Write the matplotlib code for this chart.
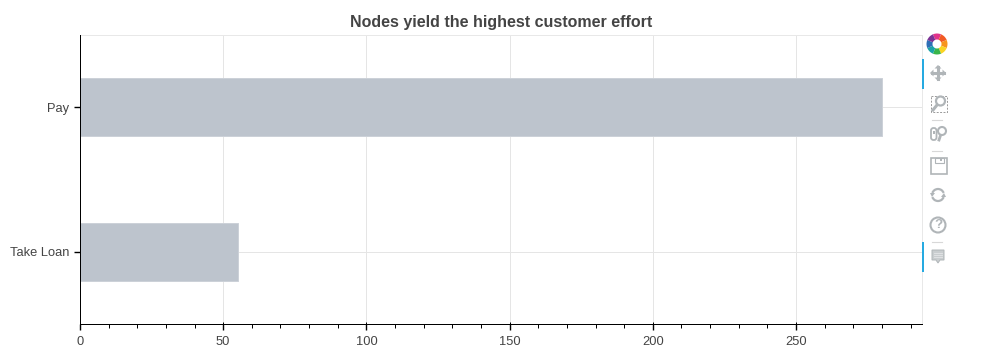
import matplotlib
matplotlib.use("Agg")
import matplotlib.pyplot as plt
from matplotlib.patches import Rectangle, Circle, Polygon, Wedge, FancyBboxPatch, Arc
from matplotlib.ticker import MultipleLocator

plt.rcParams['font.family'] = ['Liberation Sans', 'DejaVu Sans']

categories = ["Take Loan", "Pay"]
values = [55, 280]
x_ticks = [0, 50, 100, 150, 200, 250]
title = "Nodes yield the highest customer effort"

W, H = 984, 362
fig = plt.figure(figsize=(W / 100, H / 100), dpi=100)
px = 72 / 100  # one pixel in points

# axes box in pixels
left, right, top, bottom = 80.0, 922.0, 35.0, 324.0
ax = fig.add_axes([left / W, 1 - bottom / H, (right - left) / W, (bottom - top) / H])

ax.barh(range(len(categories)), values, height=0.4, color="#bdc4cd", edgecolor="#ccd1d8", linewidth=px, zorder=3)
ax.set_xlim(0, 294)
ax.set_ylim(-0.5, 1.5)
ax.set_yticks(range(len(categories)))
ax.set_yticklabels(categories)
ax.set_xticks(x_ticks)
ax.xaxis.set_minor_locator(MultipleLocator(10))

ax.grid(True, which="major", color="#e5e5e5", linewidth=px, zorder=0)
ax.set_axisbelow(True)
for s in ["top", "right"]:
    ax.spines[s].set_color("#e8e8e8")
    ax.spines[s].set_linewidth(px)
for s in ["left", "bottom"]:
    ax.spines[s].set_color("black")
    ax.spines[s].set_linewidth(px)
    ax.spines[s].set_zorder(5)

ax.tick_params(axis="both", which="major", direction="out", length=6 * px, width=1.0, color="black",
               labelsize=9.3, labelcolor="#444444")
ax.tick_params(axis="y", which="major", pad=3.2)
ax.tick_params(axis="x", which="major", pad=4)
ax.tick_params(axis="x", which="minor", direction="out", length=3.5 * px, width=px, color="black")

# short inward part of the major ticks
ax.plot(x_ticks, [-0.5] * len(x_ticks), ls="", marker=2, ms=2 * px, mew=px, color="black", clip_on=False, zorder=6)
ax.plot([0, 0], range(len(categories)), ls="", marker=0, ms=2 * px, mew=px, color="black", clip_on=False, zorder=6)

fig.text((351 + 652) / 2 / W, 1 - 22 / H, title, ha="center", va="center", fontsize=11.5,
         fontweight="bold", color="#444444")

# toolbar drawn in pixel coords
tb = fig.add_axes([0, 0, 1, 1], facecolor="none")
tb.set_xlim(0, W)
tb.set_ylim(H, 0)
tb.axis("off")
grey = "#b0b5b8"

# blue active markers
for y0 in [59, 242]:
    tb.add_patch(Rectangle((922, y0), 2, 30, color="#26aae1", lw=0))

# logo
logo_cols = ["#e2338a", "#f15a24", "#f7941d", "#f9d423", "#39b54a", "#1ba3a8", "#2e6fb7", "#7b3294"]
for i, c in enumerate(logo_cols):
    tb.add_patch(Wedge((937, 44), 10.5, 247.5 + i * 45, 292.5 + i * 45, width=6, color=c, lw=0))

# pan
tb.plot([932, 944], [73, 73], color=grey, lw=2.2)
tb.plot([938, 938], [67, 79], color=grey, lw=2.2)
for p in [[(930, 73), (933.5, 69.5), (933.5, 76.5)], [(946, 73), (942.5, 69.5), (942.5, 76.5)],
          [(938, 65), (934.5, 68.5), (941.5, 68.5)], [(938, 81), (934.5, 77.5), (941.5, 77.5)]]:
    tb.add_patch(Polygon(p, color=grey, lw=0))

# box zoom
tb.add_patch(Rectangle((930.5, 95.5), 16, 16, fill=False, ec="#999999", lw=0.7, ls=(0, (2, 1.5))))
tb.add_patch(Circle((940.5, 101), 4.5, fill=False, ec=grey, lw=1.6))
tb.plot([937, 933], [105, 110], color=grey, lw=2.2)

# wheel zoom
tb.add_patch(FancyBboxPatch((931, 128), 5.5, 12, boxstyle="round,pad=0,rounding_size=2.5", fill=False, ec=grey, lw=1.3))
tb.add_patch(Rectangle((933, 131), 1.5, 3, color=grey, lw=0))
tb.add_patch(Circle((942, 131), 4, fill=False, ec=grey, lw=1.5))
tb.plot([940.5, 939], [135.5, 140], color=grey, lw=2)

# separators
for y0 in [119.5, 150.5, 242]:
    tb.plot([932, 942], [y0, y0], color="#d8d8d8", lw=0.8)

# save
tb.add_patch(Rectangle((930.5, 157.5), 16, 16, fill=False, ec=grey, lw=1.2))
tb.add_patch(Rectangle((934.5, 157.5), 9, 5, fill=False, ec=grey, lw=0.8))
tb.add_patch(Rectangle((940, 158.5), 2, 2.5, color=grey, lw=0))

# reset
tb.add_patch(Arc((938, 195), 12, 12, theta1=200, theta2=340, ec=grey, lw=1.6))
tb.add_patch(Arc((938, 195), 12, 12, theta1=20, theta2=160, ec=grey, lw=1.6))
tb.add_patch(Polygon([(930, 193), (935, 193), (932, 197)], color=grey, lw=0))
tb.add_patch(Polygon([(946, 197), (941, 197), (944, 193)], color=grey, lw=0))

# help
tb.add_patch(Circle((938, 225), 7.5, fill=False, ec=grey, lw=1.5))
tb.text(938, 225.5, "?", ha="center", va="center", fontsize=9.5, fontweight="bold", color=grey)

# hover
tb.add_patch(Polygon([(932, 250), (944, 250), (944, 260), (940, 260), (938, 263), (936, 260), (932, 260)],
                     fc="#c9cdcf", ec=grey, lw=0.7))
for y0 in [253, 255, 257]:
    tb.plot([934, 942], [y0, y0], color="#e4e6e7", lw=0.6)

fig.savefig("out.png", dpi=100)
